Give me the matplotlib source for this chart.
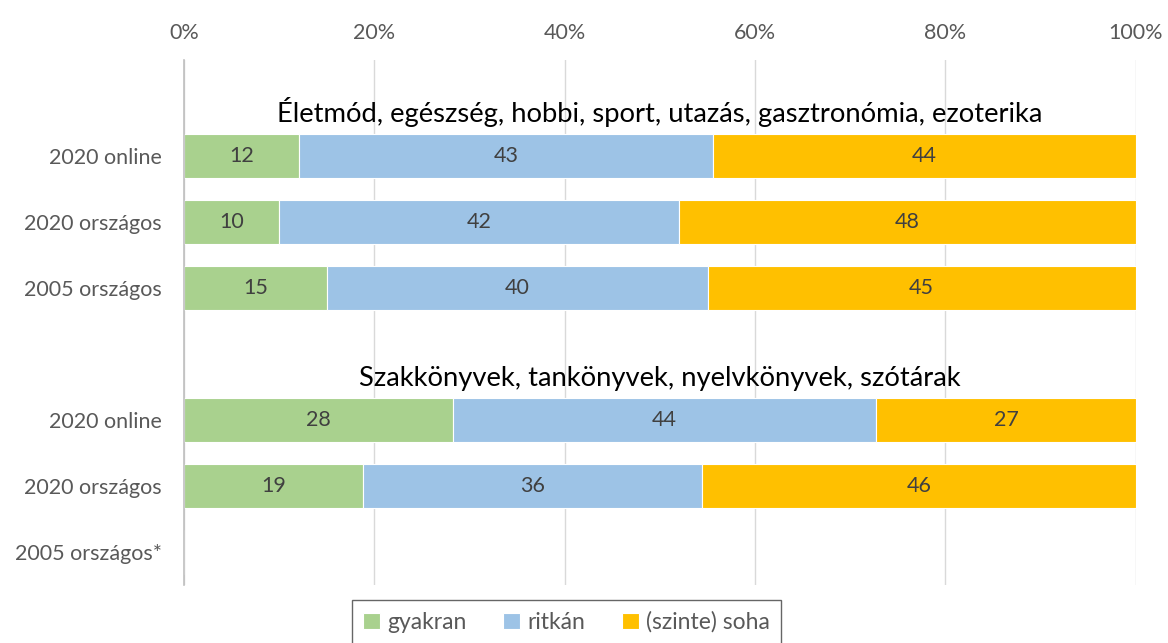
import matplotlib
matplotlib.use("Agg")
import matplotlib.pyplot as plt
import numpy as np

plt.rcParams['font.family'] = ['Lato', 'DejaVu Sans']

row_labels = ["2020 online", "2020 országos", "2005 országos",
              "2020 online", "2020 országos", "2005 országos*"]
row_pos = [0, 1, 2, 4, 5, 6]
gyakran = [12, 10, 15, 28, 19, np.nan]
ritkan = [43, 42, 40, 44, 36, np.nan]
soha = [44, 48, 45, 27, 46, np.nan]
series_names = ["gyakran", "ritkán", "(szinte) soha"]
colors = ["#A9D18E", "#9DC3E6", "#FFC000"]
group_titles = ["Életmód, egészség, hobbi, sport, utazás, gasztronómia, ezoterika",
                "Szakkönyvek, tankönyvek, nyelvkönyvek, szótárak"]
title_pos = [-0.66, 3.37]

vals = np.array([gyakran, ritkan, soha], dtype=float)
totals = vals.sum(axis=0)
shares = vals / totals

fig = plt.figure(figsize=(11.68, 6.43), dpi=100)
ax = fig.add_axes([0.1575, 0.0902, 0.815, 0.8165])

left = np.zeros(len(row_pos))
for i in range(3):
    w = np.nan_to_num(shares[i])
    ax.barh(row_pos, w, left=left, height=0.67, color=colors[i],
            edgecolor='white', linewidth=0.8, label=series_names[i], zorder=3)
    for y, l, ww, v in zip(row_pos, left, w, vals[i]):
        if not np.isnan(v):
            ax.text(l + ww / 2, y, f"{int(v)}", ha='center', va='center',
                    fontsize=15.5, color='#404040', zorder=4)
    left = left + w

for t, y in zip(group_titles, title_pos):
    ax.text(0.5, y, t, ha='center', va='center', fontsize=19.7, color='black')

ax.set_xlim(0, 1)
ax.set_ylim(6.5, -1.45)
ax.set_xticks(np.arange(0, 1.01, 0.2))
ax.set_xticklabels([f"{int(round(x * 100))}%" for x in np.arange(0, 1.01, 0.2)])
ax.xaxis.tick_top()
ax.set_yticks(row_pos)
ax.set_yticklabels(row_labels)
ax.tick_params(axis='both', length=0, labelsize=15.5, labelcolor='#595959')
ax.tick_params(axis='x', pad=12)
ax.tick_params(axis='y', pad=16)
ax.grid(axis='x', color='#D9D9D9', linewidth=1, zorder=0)
for s in ['top', 'right', 'bottom']:
    ax.spines[s].set_visible(False)
ax.spines['left'].set_color('#BFBFBF')
ax.spines['left'].set_linewidth(1.2)
ax.spines['left'].set_zorder(5)

leg = fig.legend(loc='lower center', bbox_to_anchor=(0.485, -0.02), ncol=3,
                 fontsize=16.5, frameon=True, fancybox=False, edgecolor='#404040',
                 handlelength=0.75, handleheight=0.75, handletextpad=0.3,
                 columnspacing=1.6, borderpad=0.5)
for txt in leg.get_texts():
    txt.set_color('#595959')

fig.savefig("out.png", dpi=100)
